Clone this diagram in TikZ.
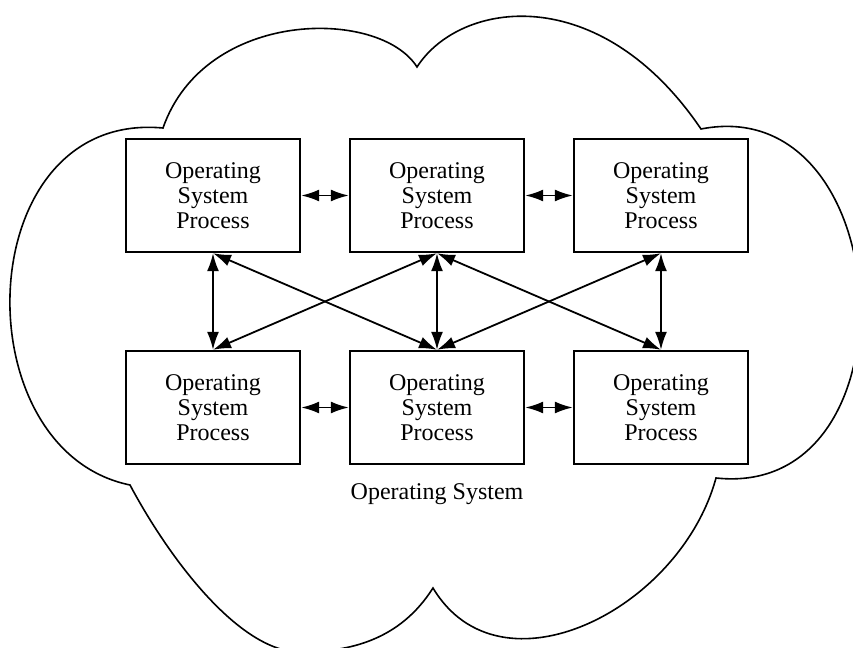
\documentclass[tikz,border=0pt]{standalone}
\usepackage{fontspec}
\setmainfont{Liberation Serif}
\usetikzlibrary{arrows.meta}
\begin{document}
\begin{tikzpicture}[x=0.5pt,y=-0.5pt]
   \tikzstyle{proc}=[draw,line width=1.2pt,minimum width=87pt,minimum height=56.5pt,align=center,inner sep=0pt,font=\fontsize{12}{12.5}\selectfont]
   \tikzstyle{label}=[font=\fontsize{12}{12.5}\selectfont]
   \tikzstyle{arrow}=[draw,line width=0.9pt,{Latex[length=9pt,width=6pt]}-{Latex[length=9pt,width=6pt]}]
   \tikzstyle{cloudline}=[draw,line width=0.8pt]
   \useasboundingbox (0,0) rectangle (853,648);
   \path [cloudline] (163,128) .. controls (205,8) and (380,8) .. (417,67)
      .. controls (460,0) and (600,-20) .. (701,129)
      .. controls (900,90) and (920,500) .. (716,478)
      .. controls (680,610) and (500,700) .. (433,588)
      .. controls (400,640) and (350,652) .. (300,652)
      .. controls (240,652) and (170,560) .. (130,485)
      .. controls (-40,450) and (-30,110) .. cycle;
   \node (tl) [proc] at (213,195.5) {Operating\\System\\Process} ;
   \node (tm) [proc,right of=tl,node distance=112pt] {Operating\\System\\Process} ;
   \node (tr) [proc,right of=tm,node distance=112pt] {Operating\\System\\Process} ;
   \node (bl) [proc,below of=tl,node distance=106pt] {Operating\\System\\Process} ;
   \node (bm) [proc,right of=bl,node distance=112pt] {Operating\\System\\Process} ;
   \node (br) [proc,right of=bm,node distance=112pt] {Operating\\System\\Process} ;
   \node (os) [label,below of=bm,node distance=43.5pt] {Operating System} ;
   \path [arrow] (tl) -- (tm) ;
   \path [arrow] (tm) -- (tr) ;
   \path [arrow] (bl) -- (bm) ;
   \path [arrow] (bm) -- (br) ;
   \path [arrow] (tl.south) -- (bl.north) ;
   \path [arrow] (tm.south) -- (bm.north) ;
   \path [arrow] (tr.south) -- (br.north) ;
   \path [arrow] (tl.south) -- (bm.north) ;
   \path [arrow] (tm.south) -- (bl.north) ;
   \path [arrow] (tm.south) -- (br.north) ;
   \path [arrow] (tr.south) -- (bm.north) ;
\end{tikzpicture}
\end{document}
